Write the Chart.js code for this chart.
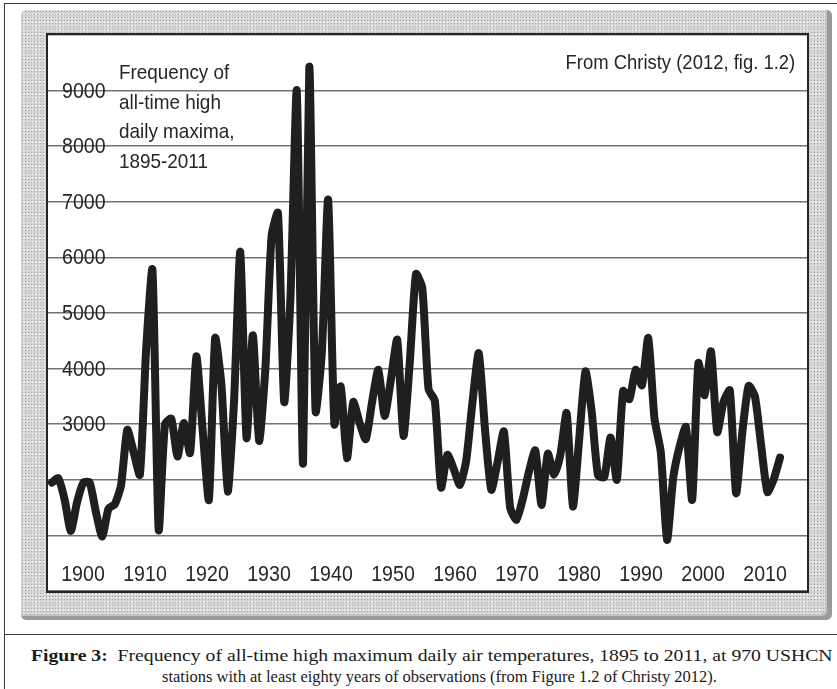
<!DOCTYPE html>
<html>
<head>
<meta charset="utf-8">
<script src="https://cdn.jsdelivr.net/npm/chart.js@4.4.1/dist/chart.umd.min.js"></script>
<style>
  html, body { margin:0; padding:0; background:#fff; width:837px; height:689px; overflow:hidden; }
  #outer { position:absolute; left:4px; top:3px; width:840px; height:700px; border-left:1.5px solid #3a3a3a; border-top:1.5px solid #3a3a3a; }
  #panel { position:absolute; left:21px; top:10px; width:811px; height:610px; border-radius:5px;
           background-color:#d3d3d3;
           background-image: radial-gradient(rgba(120,120,120,0.55) 0.7px, transparent 0.9px), radial-gradient(rgba(255,255,255,0.6) 0.7px, transparent 0.9px);
           background-size: 3px 3px, 4px 4px; background-position: 0 0, 1px 2px;
           box-shadow: inset -5px -4px 0 #9a9a9a, inset -7px -6px 0 #c4c4c4; }
  #plot { position:absolute; left:46px; top:33px; width:759px; height:556px; border:2px solid #262626; background:#fff; }
  #plot canvas { position:absolute; left:0; top:0; }
  .ann { position:absolute; font-family:'Liberation Sans',Arial,sans-serif; color:#262626; white-space:nowrap; }
  #divider { position:absolute; left:4px; top:634px; width:840px; border-top:1.5px solid #3a3a3a; }
  .cap { position:absolute; font-family:'Liberation Serif','Times New Roman',serif; line-height:21px; color:#1a1a1a; white-space:nowrap; }
  #cap1 { left:31px; top:645px; font-size:17.5px; transform:scaleX(1.125); transform-origin:left center; }
  #cap2 { left:162px; width:545px; top:666px; font-size:16.5px; text-align:center; }
</style>
</head>
<body>
<div id="outer"></div>
<div id="panel"></div>
<div id="plot"><canvas id="c" width="759" height="556"></canvas></div>
<div class="ann" style="right:42px; top:52px; font-size:20.5px; line-height:20.5px; transform:scaleX(0.9); transform-origin:right center;">From Christy (2012, fig. 1.2)</div>
<div class="ann" style="left:119px; top:57px; font-size:21px; line-height:29.5px; transform:scaleX(0.9); transform-origin:left center;">Frequency of<br>all-time high<br>daily maxima,<br>1895-2011</div>
<div id="divider"></div>
<div class="cap" id="cap1"><b>Figure 3:</b>&nbsp; Frequency of all-time high maximum daily air temperatures, 1895 to 2011, at 970 USHCN</div>
<div class="cap" id="cap2">stations with at least eighty years of observations (from Figure 1.2 of Christy 2012).</div>
<script>
const years = [1895,1896,1897,1898,1899,1900,1901,1902,1903,1904,1905,1906,1907,1908,1909,
  1910,1911,1912,1913,1914,1915,1916,1917,1918,1919,1920,1921,1922,1923,1924,1925,1926,1927,1928,1929,
  1930,1931,1932,1933,1934,1935,1936,1937,1938,1939,1940,1941,1942,1943,1944,1945,1946,1947,1948,1949,
  1950,1951,1952,1953,1954,1955,1956,1957,1958,1959,1960,1961,1962,1963,1964,1965,1966,1967,1968,1969,
  1970,1971,1972,1973,1974,1975,1976,1977,1978,1979,1980,1981,1982,1983,1984,1985,1986,1987,1988,1989,
  1990,1991,1992,1993,1994,1995,1996,1997,1998,1999,2000,2001,2002,2003,2004,2005,2006,2007,2008,2009,
  2010,2011];
const recordHighs = [1950,2030,1650,1080,1600,1950,1950,1420,980,1480,1560,1900,2900,2500,2090,
  4350,5780,1100,3000,3100,2420,3020,2480,4220,2900,1640,4550,3700,1790,3400,6100,2750,4600,2700,4000,
  6400,6800,3400,5300,9000,2290,9430,3230,4300,7040,3000,3680,2390,3400,3030,2730,3400,3980,3150,3800,
  4520,2790,4100,5700,5450,3630,3420,1860,2450,2200,1910,2350,3400,4280,2900,1820,2320,2870,1500,1280,
  1650,2150,2530,1550,2470,2090,2450,3200,1520,2730,3950,3220,2080,2050,2760,2000,3600,3450,3980,3700,
  4550,3100,2500,920,2050,2600,2950,1640,4100,3520,4310,2860,3400,3610,1760,2860,3690,3500,2610,1780,
  2010,2400];
const yTickLabels = [3000,4000,5000,6000,7000,8000,9000];
const xTickYears = [1900,1910,1920,1930,1940,1950,1960,1970,1980,1990,2000,2010];

// Tick labels drawn from the library's scales, in a slightly condensed face like the original
const condensedTickLabels = {
  id: 'condensedTickLabels',
  beforeDatasetsDraw(chart) {
    const ctx = chart.ctx, area = chart.chartArea;
    const ys = chart.scales.y, xs = chart.scales.xl;
    ctx.save();
    ctx.fillStyle = '#262626';
    ctx.font = '22px "Liberation Sans", Arial, sans-serif';
    ctx.textBaseline = 'middle';
    yTickLabels.forEach(v => {
      ctx.save();
      ctx.translate(area.left + 14, ys.getPixelForValue(v));
      ctx.scale(0.89, 1);
      ctx.textAlign = 'left';
      ctx.fillText(String(v), 0, 1);
      ctx.restore();
    });
    xTickYears.forEach(v => {
      ctx.save();
      ctx.translate(xs.getPixelForValue(v), area.bottom - 16);
      ctx.scale(0.89, 1);
      ctx.textAlign = 'center';
      ctx.fillText(String(v), 0, 0);
      ctx.restore();
    });
    ctx.restore();
  }
};

new Chart(document.getElementById('c'), {
  type: 'line',
  data: {
    datasets: [{
      data: years.map((yr, i) => ({ x: yr, y: recordHighs[i] })),
      xAxisID: 'x', yAxisID: 'y',
      borderColor: '#1f1f1f', borderWidth: 8,
      borderJoinStyle: 'round', borderCapStyle: 'round',
      pointRadius: 0, tension: 0.2, fill: false
    }]
  },
  options: {
    responsive: false, animation: false, devicePixelRatio: 1,
    layout: { padding: 0 },
    plugins: { legend: { display: false }, tooltip: { enabled: false } },
    scales: {
      x: { type: 'linear', min: 1894.363, max: 2015.30, display: false },
      xl: { type: 'linear', position: 'bottom', min: 1894.355, max: 2016.77, display: false },
      y: {
        type: 'linear', min: 0, max: 10000, position: 'left',
        afterFit(s) { s.width = 0; s.paddingTop = 0; s.paddingBottom = 0; },
        grid: { color: 'rgba(70,70,70,0.75)', lineWidth: 1.5, drawTicks: false },
        border: { display: false },
        ticks: { stepSize: 1000, display: false }
      }
    }
  },
  plugins: [condensedTickLabels]
});
</script>
</body>
</html>
